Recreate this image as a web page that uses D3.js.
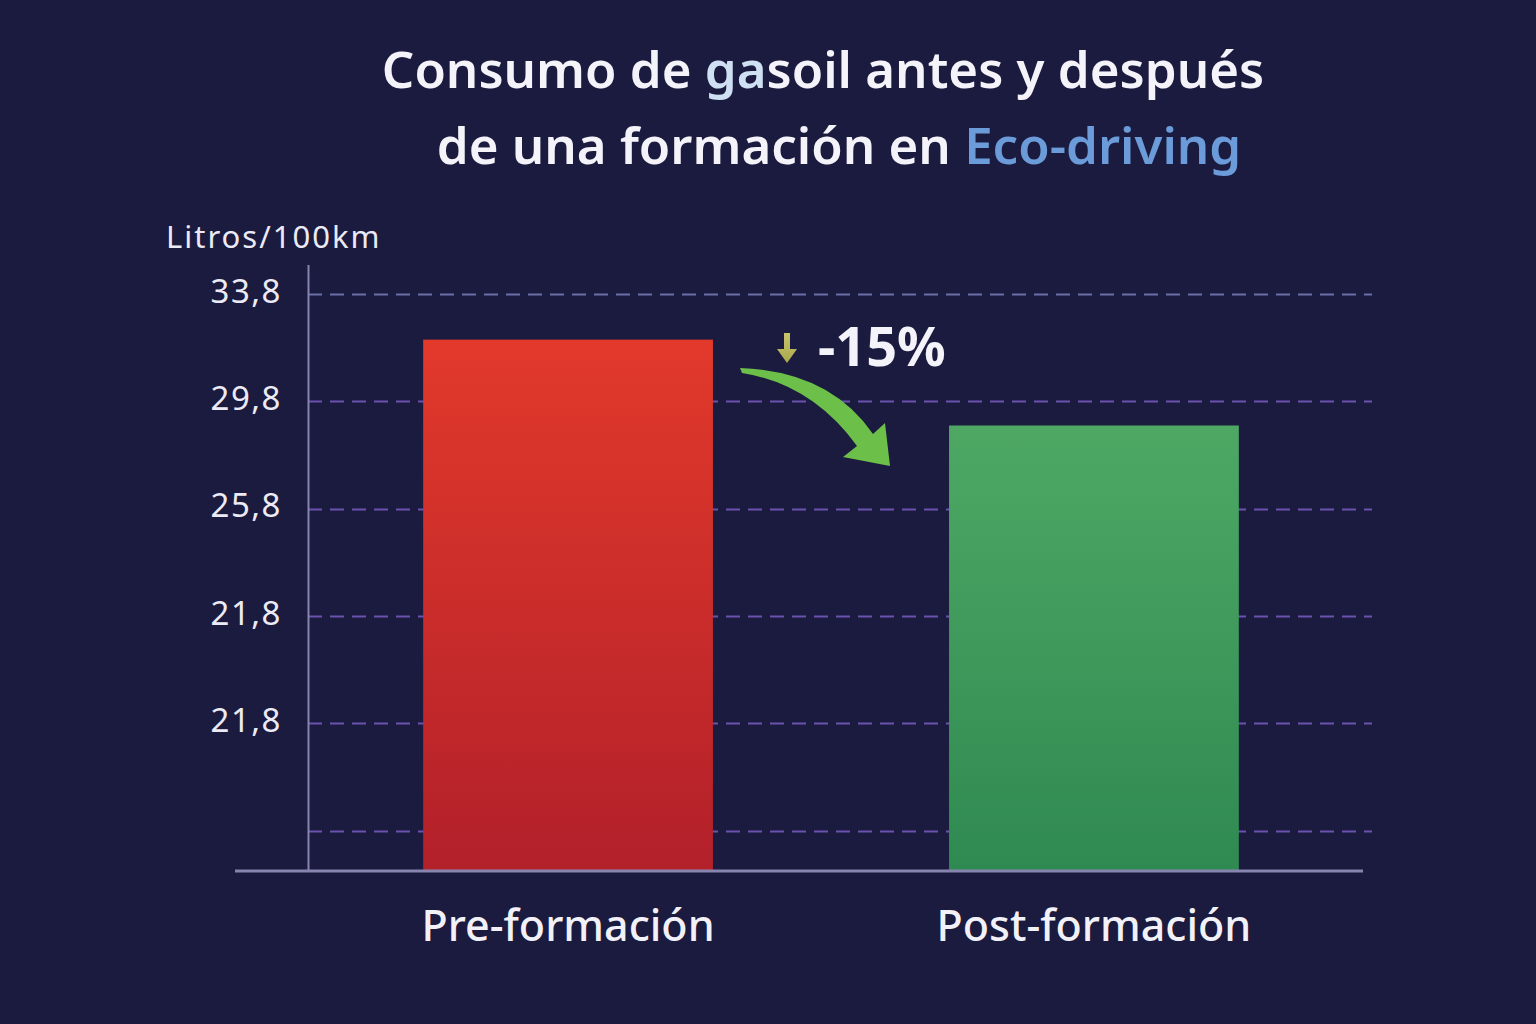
<!DOCTYPE html>
<html>
<head>
<meta charset="utf-8">
<script src="https://cdn.jsdelivr.net/npm/d3@7"></script>
<style>
  html, body { margin: 0; padding: 0; background: #1b1a3f; }
  svg { display: block; }
</style>
</head>
<body>
<svg width="1536" height="1024"></svg>
<script>
// data
var categories = ["Pre-formación", "Post-formación"];
var values = [32.1, 28.9];
var tickValues = [33.8, 29.8, 25.8, 21.8, 17.8, 13.8];
var tickLabels = ["33,8", "29,8", "25,8", "21,8", "21,8", ""];
var barColors = [["#e2392b", "#b2202a"], ["#4ea864", "#2f8a52"]];

var svg = d3.select("svg"),
  width = +svg.attr("width"),
  height = +svg.attr("height");

var font = "'Noto Sans', 'Open Sans', sans-serif";

svg.append("rect").attr("width", width).attr("height", height).attr("fill", "#1b1a3f");

var defs = svg.append("defs");
barColors.forEach(function(c, i) {
  var g = defs.append("linearGradient").attr("id", "bar" + i)
    .attr("x1", 0).attr("y1", 0).attr("x2", 0).attr("y2", 1);
  g.append("stop").attr("offset", "0%").attr("stop-color", c[0]);
  g.append("stop").attr("offset", "100%").attr("stop-color", c[1]);
});
var ag = defs.append("linearGradient").attr("id", "smallArrow")
  .attr("x1", 0).attr("y1", 0).attr("x2", 0).attr("y2", 1);
ag.append("stop").attr("offset", "0%").attr("stop-color", "#c9c46e");
ag.append("stop").attr("offset", "100%").attr("stop-color", "#a9a84e");

var y = d3.scaleLinear().domain([12.3, 33.8]).range([871, 294]);
var x = d3.scaleBand().domain(categories).range([308, 1354])
  .paddingInner(0.449).paddingOuter(0.219);

// gridlines
svg.append("g").selectAll("line").data(tickValues).enter().append("line")
  .attr("x1", 308).attr("x2", 1372)
  .attr("y1", function(d) { return Math.round(y(d)) + 0.5; })
  .attr("y2", function(d) { return Math.round(y(d)) + 0.5; })
  .attr("stroke", function(d, i) { return i == 0 ? "#6b6fa6" : "#6a52ae"; })
  .attr("stroke-width", 2)
  .attr("stroke-dasharray", "14 8");

// y axis
var yAxis = d3.axisLeft(y).tickValues(tickValues)
  .tickFormat(function(d, i) { return tickLabels[i]; })
  .tickSize(0).tickPadding(26);
var ya = svg.append("g").attr("transform", "translate(308,0)").call(yAxis);
ya.select(".domain").remove();
ya.selectAll("text").attr("fill", "#ecebf5").attr("font-size", 33)
  .attr("letter-spacing", 1.5)
  .attr("font-family", font).attr("dy", "0.25em");

svg.append("line").attr("x1", 308.5).attr("x2", 308.5).attr("y1", 265).attr("y2", 871)
  .attr("stroke", "#8884b0").attr("stroke-width", 2);

// bars
svg.append("g").selectAll("rect").data(values).enter().append("rect")
  .attr("x", function(d, i) { return x(categories[i]); })
  .attr("y", function(d) { return y(d); })
  .attr("width", x.bandwidth())
  .attr("height", function(d) { return y.range()[0] - y(d); })
  .attr("fill", function(d, i) { return "url(#bar" + i + ")"; });

// baseline
svg.append("line").attr("x1", 235).attr("x2", 1363).attr("y1", 871).attr("y2", 871)
  .attr("stroke", "#8884b0").attr("stroke-width", 3);

// category labels
svg.append("g").selectAll("text").data(categories).enter().append("text")
  .attr("x", function(d) { return x(d) + x.bandwidth() / 2; })
  .attr("y", 941)
  .attr("text-anchor", "middle")
  .attr("fill", "#f2f1f8")
  .attr("font-family", font).attr("font-size", 43).attr("font-weight", 500)
  .text(function(d) { return d; });

// unit label
svg.append("text").attr("x", 166).attr("y", 248)
  .attr("fill", "#ecebf5").attr("font-family", font).attr("font-size", 31)
  .attr("letter-spacing", 2)
  .text("Litros/100km");

// title
var t1 = svg.append("text").attr("x", 823).attr("y", 88).attr("text-anchor", "middle")
  .attr("fill", "#f4f3fa").attr("font-family", font).attr("font-size", 51).attr("font-weight", 600);
t1.append("tspan").text("Consumo de ");
t1.append("tspan").attr("fill", "#cfe0f3").text("ga");
t1.append("tspan").text("soil antes y después");
var t2 = svg.append("text").attr("x", 839).attr("y", 164).attr("text-anchor", "middle")
  .attr("fill", "#f4f3fa").attr("font-family", font).attr("font-size", 51).attr("font-weight", 600);
t2.append("tspan").text("de una formación en ");
t2.append("tspan").attr("fill", "#6b9bd8").text("Eco-driving");

// change annotation
svg.append("text").attr("x", 818).attr("y", 366)
  .attr("fill", "#f4f3fa").attr("font-family", font).attr("font-size", 54).attr("font-weight", 700)
  .text("-15%");

// small down arrow
svg.append("path")
  .attr("d", "M784,333 L790,333 L790,349 L797,349 L787,363 L777,349 L784,349 Z")
  .attr("fill", "url(#smallArrow)");

// curved green arrow
svg.append("path")
  .attr("d", "M740,368 Q830,371 873,434 L885,423 L890,466 L843,457 L857,446 Q812,384 742,373 Z")
  .attr("fill", "#6cbf48");
</script>
</body>
</html>
